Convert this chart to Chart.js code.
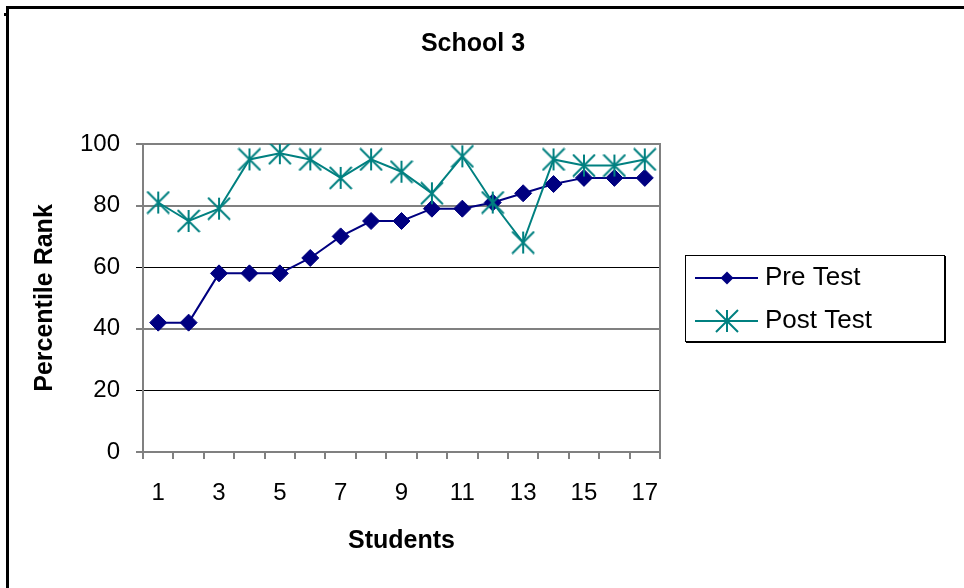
<!DOCTYPE html>
<html>
<head>
<meta charset="utf-8">
<title>School 3</title>
<script src="https://cdn.jsdelivr.net/npm/chart.js@4.4.1/dist/chart.umd.min.js"></script>
<style>
  html, body { margin: 0; padding: 0; background: #ffffff; }
  #wrap { position: relative; width: 964px; height: 588px; }
</style>
</head>
<body>
<div id="wrap"><canvas id="chart" width="964" height="588"></canvas></div>
<script>
// Student numbers along the category axis
const students = ['1','2','3','4','5','6','7','8','9','10','11','12','13','14','15','16','17'];
// Percentile rank for each student
const preTest  = [42, 42, 58, 58, 58, 63, 70, 75, 75, 79, 79, 81, 84, 87, 89, 89, 89];
const postTest = [81, 75, 79, 95, 97, 95, 89, 95, 91, 84, 96, 81, 68, 95, 93, 93, 95];
// Value-axis tick marks
const rankTicks = [0, 20, 40, 60, 80, 100];

const chartTitle = 'School 3';
const seriesNames = ['Pre Test', 'Post Test'];

const NAVY = '#000080';
const TEAL = '#008080';
const FONT = "'Liberation Sans', Arial, sans-serif";

// Asterisk marker: one vertical stroke plus an X
function makeStar(size, color) {
  const c = document.createElement('canvas');
  c.width = size; c.height = size;
  const g = c.getContext('2d');
  const m = size / 2, r = size / 2 - 1;
  g.strokeStyle = color;
  g.lineWidth = 2;
  g.beginPath();
  g.moveTo(m, m - r); g.lineTo(m, m + r);
  g.moveTo(m - r, m - r); g.lineTo(m + r, m + r);
  g.moveTo(m + r, m - r); g.lineTo(m - r, m + r);
  g.stroke();
  return c;
}
const starMark = makeStar(24, TEAL);

// Frame, heading, plot outline and legend box
const decorations = {
  id: 'decorations',
  afterDraw(chart) {
    const ctx = chart.ctx;
    const a = chart.chartArea;
    ctx.save();

    // outer frame (top and left edges)
    ctx.fillStyle = '#000000';
    ctx.fillRect(6, 6, 958, 3);
    ctx.fillRect(6, 6, 3, 582);
    ctx.fillRect(4, 13, 2, 3);

    // heading
    ctx.fillStyle = '#000000';
    ctx.font = 'bold 25px ' + FONT;
    ctx.textAlign = 'center';
    ctx.textBaseline = 'middle';
    ctx.fillText(chartTitle, 473, 44);

    // right edge of the plot area
    ctx.strokeStyle = '#808080';
    ctx.lineWidth = 2;
    ctx.beginPath();
    ctx.moveTo(a.right, a.top - 1);
    ctx.lineTo(a.right, a.bottom + 1);
    ctx.stroke();

    // legend
    const lx = 685, ly = 255, lw = 259, lh = 86;
    ctx.fillStyle = '#ffffff';
    ctx.fillRect(lx, ly, lw, lh);
    ctx.strokeStyle = '#000000';
    ctx.lineWidth = 1;
    ctx.strokeRect(lx + 0.5, ly + 0.5, lw, lh);
    ctx.fillStyle = '#000000';
    ctx.fillRect(lx + lw, ly + 1, 2, lh + 1);
    ctx.fillRect(lx + 1, ly + lh, lw + 1, 2);

    const rows = [ly + 23, ly + 66];
    const colors = [NAVY, TEAL];
    rows.forEach((y, i) => {
      ctx.strokeStyle = colors[i];
      ctx.lineWidth = 2;
      ctx.beginPath();
      ctx.moveTo(695, y);
      ctx.lineTo(758, y);
      ctx.stroke();
      if (i === 0) {
        const r = 6.5, cx = 727;
        ctx.fillStyle = NAVY;
        ctx.beginPath();
        ctx.moveTo(cx - r, y); ctx.lineTo(cx, y - r);
        ctx.lineTo(cx + r, y); ctx.lineTo(cx, y + r);
        ctx.closePath();
        ctx.fill();
      } else {
        ctx.drawImage(starMark, 727 - 12, y - 12);
      }
      ctx.fillStyle = '#000000';
      ctx.font = '26px ' + FONT;
      ctx.textAlign = 'left';
      ctx.textBaseline = 'middle';
      ctx.fillText(seriesNames[i], 765, y);
    });

    ctx.restore();
  }
};

const ctx = document.getElementById('chart').getContext('2d');
new Chart(ctx, {
  type: 'line',
  data: {
    labels: students,
    datasets: [
      {
        label: seriesNames[0],
        data: preTest,
        borderColor: NAVY,
        backgroundColor: NAVY,
        borderWidth: 2,
        pointStyle: 'rectRot',
        pointRadius: 8.5,
        pointHoverRadius: 8.5,
        pointBorderWidth: 1,
        pointBackgroundColor: NAVY,
        pointBorderColor: NAVY,
        tension: 0,
        order: 1
      },
      {
        label: seriesNames[1],
        data: postTest,
        borderColor: TEAL,
        backgroundColor: TEAL,
        borderWidth: 2,
        pointStyle: starMark,
        pointRadius: 12,
        pointHoverRadius: 12,
        tension: 0,
        order: 0
      }
    ]
  },
  options: {
    responsive: false,
    animation: false,
    events: [],
    layout: { padding: { top: 144, right: 304, bottom: 0, left: 0 } },
    plugins: {
      legend: { display: false },
      title: { display: false },
      tooltip: { enabled: false }
    },
    scales: {
      x: {
        type: 'category',
        offset: true,
        grid: {
          offset: true,
          drawOnChartArea: false,
          drawTicks: true,
          tickLength: 7,
          color: '#808080',
          lineWidth: 2
        },
        border: { display: true, color: '#808080', width: 2 },
        ticks: {
          autoSkip: false,
          maxRotation: 0,
          minRotation: 0,
          padding: 20,
          color: '#000000',
          font: { family: FONT, size: 24 },
          callback: function (value, index) {
            return index % 2 === 0 ? this.getLabelForValue(value) : '';
          }
        },
        title: {
          display: true,
          text: 'Students',
          color: '#000000',
          font: { family: FONT, size: 25, weight: 'bold' },
          padding: { top: 0, bottom: 32 }
        },
        afterFit(scale) { scale.height = 136; }
      },
      y: {
        min: 0,
        max: 100,
        afterBuildTicks(scale) {
          scale.ticks = rankTicks.map(v => ({ value: v }));
        },
        grid: {
          drawTicks: true,
          tickLength: 7,
          color: (c) => (c.tick && (c.tick.value === 60 || c.tick.value === 20)) ? '#000000' : '#808080',
          lineWidth: (c) => (c.tick && (c.tick.value === 60 || c.tick.value === 20)) ? 1 : 2
        },
        border: { display: true, color: '#808080', width: 2 },
        ticks: {
          padding: 16,
          color: '#000000',
          font: { family: FONT, size: 24 }
        },
        title: {
          display: true,
          text: 'Percentile Rank',
          color: '#000000',
          font: { family: FONT, size: 25, weight: 'bold' },
          padding: { top: 30, bottom: 0 }
        },
        afterFit(scale) { scale.width = 143; }
      }
    }
  },
  plugins: [decorations]
});
</script>
</body>
</html>
